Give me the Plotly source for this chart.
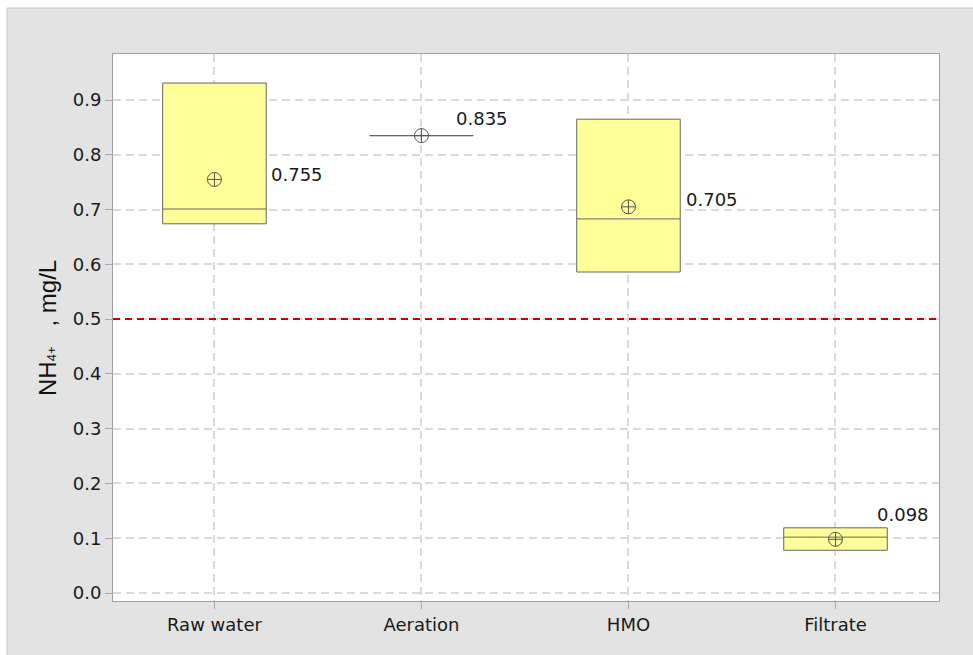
import plotly.graph_objects as go

categories = ["Raw water", "Aeration", "HMO", "Filtrate"]
q1 = [0.674, 0.835, 0.586, 0.078]
median = [0.701, 0.835, 0.683, 0.102]
q3 = [0.931, 0.835, 0.865, 0.119]
means = [0.755, 0.835, 0.705, 0.098]
mean_labels = ["0.755", "0.835", "0.705", "0.098"]
limit_value = 0.5
y_ticks = [0.0, 0.1, 0.2, 0.3, 0.4, 0.5, 0.6, 0.7, 0.8, 0.9]

# style: label offsets in pixels (x, y)
label_offsets = [(55, 5), (33, 17), (56, 7), (40, 25)]

W, H = 973, 655
ml, mr, mt, mb = 113, 34, 54, 54
pw, ph = W - ml - mr, H - mt - mb

def px2paper_x(px):
    return (px - ml) / pw

def px2paper_y(py):
    return (H - mb - py) / ph

fig = go.Figure()

fig.add_trace(go.Box(
    x=categories, q1=q1, median=median, q3=q3,
    lowerfence=q1, upperfence=q3,
    width=0.5, whiskerwidth=0,
    fillcolor="#ffff99",
    line=dict(color="#666666", width=1),
    boxpoints=False, showlegend=False, hoverinfo="skip",
))

fig.add_trace(go.Scatter(
    x=categories, y=means, mode="markers",
    marker=dict(symbol="circle-cross-open", size=14,
                color="#555555", line=dict(color="#555555", width=1)),
    showlegend=False, hoverinfo="skip",
))

for cat, m, lab, (dx, dy) in zip(categories, means, mean_labels, label_offsets):
    fig.add_annotation(x=cat, y=m, text=lab, showarrow=False,
                       xanchor="left", yanchor="middle", xshift=dx, yshift=dy,
                       font=dict(family="DejaVu Sans", size=18, color="#1a1a1a"))

fig.add_hline(y=limit_value, line=dict(color="#cc0000", width=2, dash="7px,5px"))

fig.add_shape(type="rect", xref="paper", yref="paper",
              x0=px2paper_x(7), x1=px2paper_x(W + 10),
              y0=px2paper_y(H + 10), y1=px2paper_y(8),
              fillcolor="#e3e3e3", line=dict(color="#c8c8c8", width=1),
              layer="below")
fig.add_shape(type="rect", xref="paper", yref="paper",
              x0=0, x1=1, y0=0, y1=1,
              fillcolor="white", line=dict(width=0),
              layer="below")

fig.add_annotation(xref="paper", yref="paper",
                   x=px2paper_x(47), y=px2paper_y(328),
                   text="NH<span style='font-size:13px'>4+</span>\u00a0\u00a0\u00a0,\u00a0mg/L",
                   textangle=-90, showarrow=False,
                   xanchor="center", yanchor="middle",
                   font=dict(family="Liberation Sans", size=24, color="#111111"))

fig.update_layout(
    width=W, height=H,
    margin=dict(l=ml, r=mr, t=mt, b=mb),
    paper_bgcolor="white", plot_bgcolor="white",
    showlegend=False,
    font=dict(family="DejaVu Sans", size=17, color="#1a1a1a"),
)

fig.update_xaxes(
    type="category", range=[-0.49, 3.5],
    showgrid=True, gridcolor="#dadada", gridwidth=2, griddash="8px,5px",
    ticks="outside", ticklen=7, tickcolor="#a8a8a8",
    showline=True, mirror=True, linecolor="#a0a0a0", linewidth=1,
    tickfont=dict(family="DejaVu Sans", size=18, color="#1a1a1a"),
    zeroline=False,
)
fig.update_yaxes(
    range=[-0.0146, 0.984], tickvals=y_ticks, tickformat=".1f",
    showgrid=True, gridcolor="#dadada", gridwidth=2, griddash="8px,5px",
    ticks="outside", ticklen=7, tickcolor="#a8a8a8",
    showline=True, mirror=True, linecolor="#a0a0a0", linewidth=1,
    tickfont=dict(family="DejaVu Sans", size=18, color="#1a1a1a"),
    zeroline=False,
)

fig.write_html("out.html")
